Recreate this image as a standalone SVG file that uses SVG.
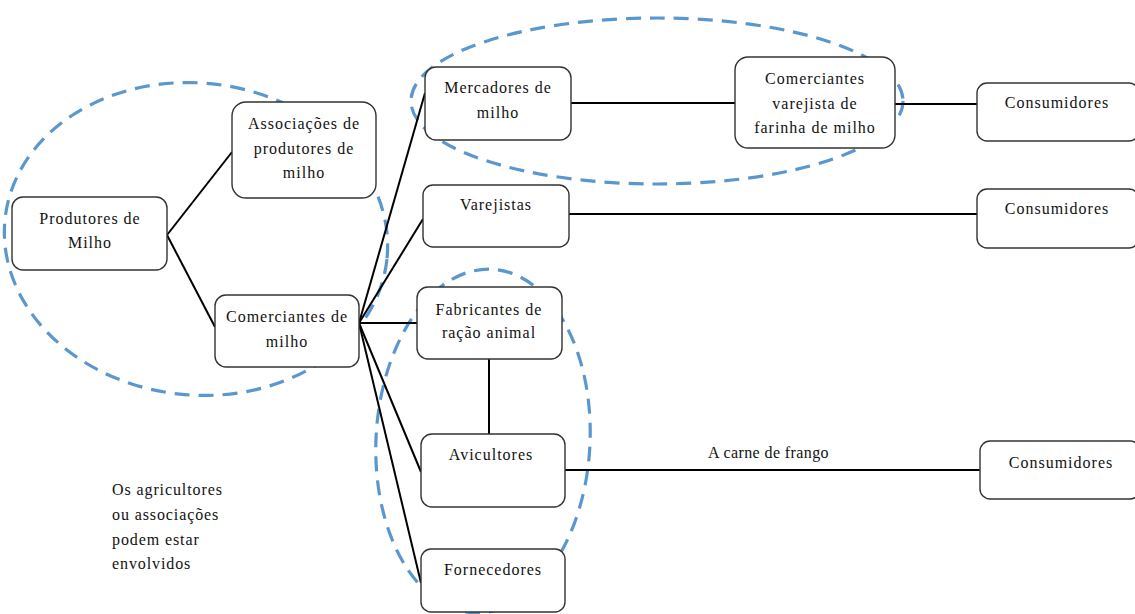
<svg xmlns="http://www.w3.org/2000/svg" width="1135" height="614" viewBox="0 0 1135 614" font-family="'Liberation Serif', 'Times New Roman', 'DejaVu Serif', serif">
<style>
.box{fill:#fff;stroke:#333;stroke-width:1.4}
.t{font-family:'Liberation Serif','Times New Roman','DejaVu Serif',serif;font-size:16px;letter-spacing:1px;fill:#111;text-anchor:middle}
.tl{font-family:'Liberation Serif','Times New Roman','DejaVu Serif',serif;font-size:16px;letter-spacing:0.9px;fill:#111}
.c{stroke:#000;stroke-width:2;fill:none}
.grp{fill:none;stroke:#5b97cf;stroke-width:3.2;stroke-dasharray:15 9}
</style>
<rect width="1135" height="614" fill="#fff"/>
<g id="groups">
<ellipse class="grp" cx="196" cy="239" rx="192" ry="156" transform="rotate(6 196 239)"/>
<ellipse class="grp" cx="657" cy="101" rx="246" ry="83"/>
<ellipse class="grp" cx="483" cy="441" rx="107" ry="172" transform="rotate(3 483 441)"/>
</g>
<g id="connectors">
<line class="c" x1="167" y1="235" x2="232" y2="152"/>
<line class="c" x1="167" y1="235" x2="215" y2="327"/>
<line class="c" x1="359" y1="323" x2="425" y2="93"/>
<line class="c" x1="359" y1="323" x2="423" y2="219"/>
<line class="c" x1="359" y1="323" x2="417" y2="323"/>
<line class="c" x1="359" y1="323" x2="421" y2="472"/>
<line class="c" x1="359" y1="323" x2="421" y2="583"/>
<line class="c" x1="489" y1="359" x2="489" y2="434"/>
<line class="c" x1="571" y1="103" x2="735" y2="103"/>
<line class="c" x1="895" y1="104" x2="977" y2="104"/>
<line class="c" x1="569" y1="214" x2="977" y2="214"/>
<line class="c" x1="565" y1="470" x2="980" y2="470"/>
<text class="tl" x="708" y="458" font-family="Liberation Serif" style="letter-spacing:0.4px">A carne de frango</text>
</g>
<g id="n-produtores"><rect class="box" x="12" y="197" width="155" height="73" rx="11"/><text class="t" x="90" y="224">Produtores de</text><text class="t" x="90" y="248">Milho</text></g>
<g id="n-associacoes"><rect class="box" x="232" y="102" width="144" height="96" rx="14"/><text class="t" x="304" y="129">Associações de</text><text class="t" x="304" y="154">produtores de</text><text class="t" x="304" y="178">milho</text></g>
<g id="n-comerciantes"><rect class="box" x="215" y="295" width="144" height="72" rx="11"/><text class="t" x="287" y="322">Comerciantes de</text><text class="t" x="287" y="347">milho</text></g>
<g id="n-mercadores"><rect class="box" x="425" y="67" width="146" height="73" rx="11"/><text class="t" x="498" y="93">Mercadores de</text><text class="t" x="498" y="118">milho</text></g>
<g id="n-varejista-farinha"><rect class="box" x="735" y="57" width="160" height="91" rx="13"/><text class="t" x="815" y="84">Comerciantes</text><text class="t" x="815" y="109">varejista de</text><text class="t" x="815" y="133">farinha de milho</text></g>
<g id="n-consumidores1"><rect class="box" x="977" y="83" width="162" height="58" rx="10"/><text class="t" x="1057" y="108">Consumidores</text></g>
<g id="n-varejistas"><rect class="box" x="423" y="185" width="146" height="62" rx="10"/><text class="t" x="496" y="210">Varejistas</text></g>
<g id="n-consumidores2"><rect class="box" x="977" y="189" width="162" height="59" rx="10"/><text class="t" x="1057" y="214">Consumidores</text></g>
<g id="n-fabricantes"><rect class="box" x="417" y="287" width="145" height="72" rx="11"/><text class="t" x="489" y="315">Fabricantes de</text><text class="t" x="489" y="338">ração animal</text></g>
<g id="n-avicultores"><rect class="box" x="421" y="434" width="144" height="73" rx="11"/><text class="t" x="491" y="460">Avicultores</text></g>
<g id="n-fornecedores"><rect class="box" x="421" y="549" width="144" height="63" rx="10"/><text class="t" x="493" y="575">Fornecedores</text></g>
<g id="n-consumidores3"><rect class="box" x="980" y="441" width="160" height="58" rx="10"/><text class="t" x="1061" y="468">Consumidores</text></g>
<g id="note"><text class="tl" x="112" y="495">Os agricultores</text><text class="tl" x="112" y="520">ou associações</text><text class="tl" x="112" y="545">podem estar</text><text class="tl" x="112" y="569">envolvidos</text></g>
</svg>
